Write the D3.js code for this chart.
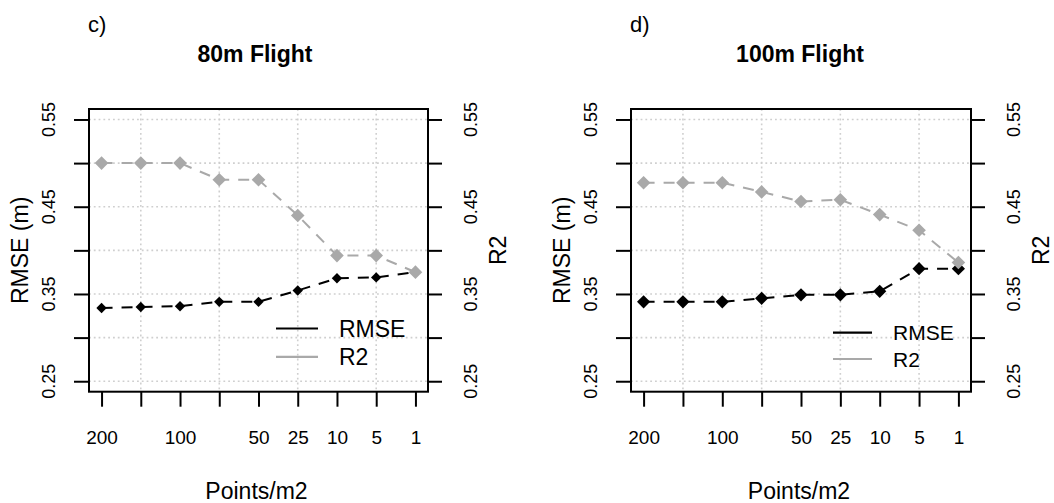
<!DOCTYPE html>
<html>
<head>
<meta charset="utf-8">
<script src="https://cdn.jsdelivr.net/npm/d3@7"></script>
<style>
  html, body { margin: 0; padding: 0; background: #fff; }
  svg { display: block; font-family: "Liberation Sans", Arial, Helvetica, sans-serif; }
</style>
</head>
<body>
<svg id="chart" width="1054" height="503"></svg>
<script>
// Point densities (points per m2), one per x position
const densities = ["200", "150", "100", "75", "50", "25", "10", "5", "1"];
const xTickLabels = ["200", "", "100", "", "50", "25", "10", "5", "1"];
const yTicks = [0.25, 0.30, 0.35, 0.40, 0.45, 0.50, 0.55];
const yTickLabels = ["0.25", "", "0.35", "", "0.45", "", "0.55"];
const xGrid = [2, 4, 6, 8];

// 80m flight
const rmse80 = [0.334, 0.335, 0.336, 0.341, 0.341, 0.354, 0.368, 0.369, 0.375];
const r2_80 = [0.500, 0.500, 0.500, 0.481, 0.481, 0.440, 0.394, 0.394, 0.375];
// 100m flight
const rmse100 = [0.341, 0.341, 0.341, 0.345, 0.349, 0.349, 0.353, 0.379, 0.379];
const r2_100 = [0.4775, 0.4775, 0.4775, 0.467, 0.456, 0.458, 0.441, 0.423, 0.386];

const panels = [
  { letter: "c)", title: "80m Flight", rmse: rmse80, r2: r2_80,
    x0: 89, x1: 428, titleX: 255, blackSize: 5.2, legend: { lx0: 276, lx1: 318, ly: 328.5, gap: 28.4, fs: 23 } },
  { letter: "d)", title: "100m Flight", rmse: rmse100, r2: r2_100,
    x0: 631, x1: 971, titleX: 800, blackSize: 6.6, legend: { lx0: 833, lx1: 872, ly: 332.7, gap: 26.3, fs: 21 } }
];

const svg = d3.select("#chart");
const plotTop = 109, plotBottom = 391.7;
const BLACK = "#000", GRAY = "#a9a9a9", GRID = "#cfcfcf";

function diamond(r) {
  return `M0,${-r}L${r},0L0,${r}L${-r},0Z`;
}

panels.forEach(p => {
  const g = svg.append("g");
  const x = d3.scaleLinear().domain([0.68, 9.32]).range([p.x0, p.x1]);
  const y = d3.scaleLinear().domain([0.238, 0.562]).range([plotBottom, plotTop]);
  const idx = d3.range(1, densities.length + 1);

  // dotted grid
  g.append("g").selectAll("line").data(yTicks).join("line")
    .attr("x1", p.x0).attr("x2", p.x1)
    .attr("y1", d => y(d)).attr("y2", d => y(d))
    .attr("stroke", GRID).attr("stroke-width", 1.6).attr("stroke-dasharray", "1.8,3");
  g.append("g").selectAll("line").data(xGrid).join("line")
    .attr("x1", d => x(d)).attr("x2", d => x(d))
    .attr("y1", plotTop).attr("y2", plotBottom)
    .attr("stroke", GRID).attr("stroke-width", 1.6).attr("stroke-dasharray", "1.8,3");

  // axes
  const bottomAxis = d3.axisBottom(x).tickValues(idx).tickSize(15).tickSizeOuter(0)
    .tickFormat((d, i) => xTickLabels[i]);
  const ax = g.append("g").attr("transform", `translate(0,${plotBottom})`).call(bottomAxis);
  ax.attr("font-size", null).attr("font-family", null);
  ax.select(".domain").remove();
  ax.selectAll("line").attr("stroke", BLACK).attr("stroke-width", 2);
  ax.selectAll("text").style("font-size", "19px").attr("fill", BLACK)
    .attr("y", 0).attr("dy", 0).attr("transform", "translate(0,52)");

  const leftAxis = d3.axisLeft(y).tickValues(yTicks).tickSize(15).tickSizeOuter(0).tickFormat(() => "");
  const la = g.append("g").attr("transform", `translate(${p.x0},0)`).call(leftAxis);
  la.select(".domain").remove();
  la.selectAll("line").attr("stroke", BLACK).attr("stroke-width", 2);

  const rightAxis = d3.axisRight(y).tickValues(yTicks).tickSize(14).tickSizeOuter(0).tickFormat(() => "");
  const ra = g.append("g").attr("transform", `translate(${p.x1},0)`).call(rightAxis);
  ra.select(".domain").remove();
  ra.selectAll("line").attr("stroke", BLACK).attr("stroke-width", 2);

  // rotated y tick labels on both sides
  [p.x0 - 40, p.x1 + 43].forEach(cx => {
    g.append("g").selectAll("text").data(yTicks).join("text")
      .attr("transform", d => `translate(${cx},${y(d)}) rotate(-90)`)
      .attr("text-anchor", "middle").attr("dy", "0.36em")
      .style("font-size", "18px").attr("fill", BLACK)
      .text((d, i) => yTickLabels[i]);
  });

  // plot box
  g.append("rect").attr("x", p.x0).attr("y", plotTop)
    .attr("width", p.x1 - p.x0).attr("height", plotBottom - plotTop)
    .attr("fill", "none").attr("stroke", BLACK).attr("stroke-width", 2);

  // axis titles
  const midY = (plotTop + plotBottom) / 2;
  g.append("text").attr("transform", `translate(${p.x0 - 69},${midY}) rotate(-90)`)
    .attr("text-anchor", "middle").attr("dy", "0.36em").style("font-size", "23px").text("RMSE (m)");
  g.append("text").attr("transform", `translate(${p.x1 + 70},${midY}) rotate(-90)`)
    .attr("text-anchor", "middle").attr("dy", "0.36em").style("font-size", "23px").text("R2");
  g.append("text").attr("x", (p.x0 + p.x1) / 2 - 2).attr("y", 499)
    .attr("text-anchor", "middle").style("font-size", "23px").text("Points/m2");

  // title and panel letter
  g.append("text").attr("x", p.titleX).attr("y", 62)
    .attr("text-anchor", "middle").style("font-size", "23px").attr("font-weight", "bold").text(p.title);
  g.append("text").attr("x", p.x0 - 1).attr("y", 32)
    .style("font-size", "22px").text(p.letter);

  // series lines
  const line = d3.line().x((d, i) => x(i + 1)).y(d => y(d));
  g.append("path").datum(p.rmse).attr("d", line)
    .attr("fill", "none").attr("stroke", BLACK).attr("stroke-width", 2).attr("stroke-dasharray", "11,9");
  g.selectAll(".pt-rmse").data(p.rmse).join("path").attr("class", "pt-rmse")
    .attr("transform", (d, i) => `translate(${x(i + 1)},${y(d)})`)
    .attr("d", diamond(p.blackSize)).attr("fill", BLACK);

  g.append("path").datum(p.r2).attr("d", line)
    .attr("fill", "none").attr("stroke", GRAY).attr("stroke-width", 2).attr("stroke-dasharray", "11,9");
  g.selectAll(".pt-r2").data(p.r2).join("path").attr("class", "pt-r2")
    .attr("transform", (d, i) => `translate(${x(i + 1)},${y(d)})`)
    .attr("d", diamond(6.8)).attr("fill", GRAY);

  // legend
  const L = p.legend;
  [["RMSE", BLACK], ["R2", GRAY]].forEach(([name, col], k) => {
    const ly = L.ly + k * L.gap;
    g.append("line").attr("x1", L.lx0).attr("x2", L.lx1).attr("y1", ly).attr("y2", ly)
      .attr("stroke", col).attr("stroke-width", 2.2);
    g.append("text").attr("x", L.lx1 + 21).attr("y", ly).attr("dy", "0.36em")
      .style("font-size", L.fs + "px").attr("fill", BLACK).text(name);
  });
});
</script>
</body>
</html>
